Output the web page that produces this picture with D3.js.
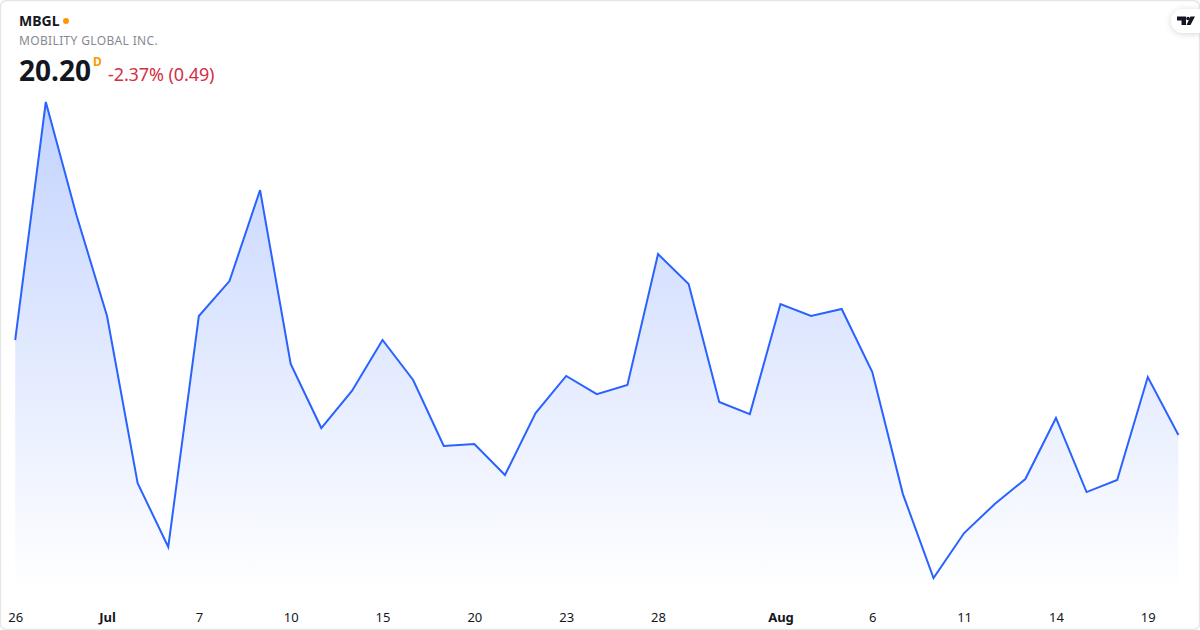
<!DOCTYPE html>
<html><head><meta charset="utf-8">
<script src="https://cdnjs.cloudflare.com/ajax/libs/d3/7.8.5/d3.min.js"></script>
<style>
html,body{margin:0;padding:0;background:#fff;overflow:hidden}
svg{display:block}
text{font-family:"Noto Sans","Open Sans",sans-serif}
</style></head><body><div id="c"></div>
<script>
const ticker="MBGL", company="MOBILITY GLOBAL INC.", lastPrice="20.20", interval="D", change="-2.37% (0.49)";
const sessions=["06-26","06-27","06-28","07-01","07-02","07-03","07-07","07-08","07-09","07-10","07-11","07-12","07-15","07-16","07-17","07-20","07-21","07-22","07-23","07-24","07-25","07-28","07-29","07-30","07-31","08-01","08-02","08-05","08-06","08-07","08-08","08-11","08-12","08-13","08-14","08-15","08-16","08-19","08-20"];
const prices=[21.003,23.014,22.059,21.206,19.794,19.254,21.206,21.501,22.270,20.800,20.259,20.572,21.003,20.665,20.107,20.124,19.862,20.386,20.699,20.546,20.623,21.729,21.476,20.479,20.377,21.307,21.206,21.265,20.732,19.701,18.992,19.372,19.617,19.828,20.344,19.718,19.820,20.690,20.200];
const tickSessions=["06-26","07-01","07-07","07-10","07-15","07-20","07-23","07-28","08-01","08-06","08-11","08-14","08-19"];
const tickLabels=["26","Jul","7","10","15","20","23","28","Aug","6","11","14","19"];
const boldTicks=["Jul","Aug"];
const W=1200,H=630;
const svg=d3.select("#c").append("svg").attr("width",W).attr("height",H);
const defs=svg.append("defs");
const grad=defs.append("linearGradient").attr("id","g").attr("gradientUnits","userSpaceOnUse").attr("x1",0).attr("x2",0).attr("y1",102).attr("y2",592);
grad.append("stop").attr("offset","0%").attr("stop-color","#2962ff").attr("stop-opacity",0.28);
grad.append("stop").attr("offset","100%").attr("stop-color","#2962ff").attr("stop-opacity",0);
const sh=defs.append("filter").attr("id","s").attr("x","-30%").attr("y","-50%").attr("width","160%").attr("height","200%");
sh.append("feDropShadow").attr("dx",0).attr("dy",1).attr("stdDeviation",3).attr("flood-color","#000").attr("flood-opacity",0.16);

const x=d3.scalePoint().domain(sessions).range([15.2,1178.4]);
const y=d3.scaleLinear().domain(d3.extent(prices)).range([578,102]);
const base=592;
const area=d3.area().x((d,i)=>x(sessions[i])).y0(base).y1(d=>y(d));
const line=d3.line().x((d,i)=>x(sessions[i])).y(d=>y(d));

svg.append("path").datum(prices).attr("d",area).attr("fill","url(#g)");
svg.append("path").datum(prices).attr("d",line).attr("fill","none").attr("stroke","#2962ff").attr("stroke-width",2).attr("stroke-linejoin","miter");

// x axis
const axis=d3.axisBottom(x).tickValues(tickSessions).tickSize(0).tickPadding(0).tickFormat(d=>tickLabels[tickSessions.indexOf(d)]);
const gx=svg.append("g").attr("transform","translate(0,612.6)").call(axis);
gx.select(".domain").remove();
gx.selectAll("text").attr("dy","0.71em").attr("y",0).attr("font-size",13).attr("fill","#131722")
  .attr("font-weight",d=>boldTicks.includes(tickLabels[tickSessions.indexOf(d)])?700:400).style("font-family",'"Noto Sans"');

// card border
svg.append("rect").attr("x",0.5).attr("y",0.5).attr("width",W-1).attr("height",H-1).attr("rx",6).attr("fill","none").attr("stroke","#e6e6e6").attr("stroke-width",1.5);

// header
svg.append("text").attr("x",19).attr("y",26).attr("font-size",14).attr("font-weight",700).attr("fill","#131722").text(ticker);
svg.append("circle").attr("cx",66).attr("cy",21).attr("r",3).attr("fill","#ff9800");
svg.append("text").attr("x",19).attr("y",45).attr("font-size",12).attr("letter-spacing",0.35).attr("fill","#868993").text(company);
svg.append("text").attr("x",19).attr("y",81).attr("font-size",28).attr("font-weight",700).attr("fill","#131722").text(lastPrice);
svg.append("text").attr("x",93).attr("y",66).attr("font-size",12).attr("font-weight",700).attr("fill","#ff9800").text(interval);
svg.append("text").attr("x",108).attr("y",81).attr("font-size",18).attr("textLength",106.5).attr("fill","#d32f45").text(change);

// logo badge
const lg=svg.append("g");
lg.append("path").attr("d","M1200 9 H1183 A12 12 0 0 0 1171 21 A12 12 0 0 0 1183 33 H1200 Z").attr("fill","#fff").attr("filter","url(#s)");
lg.append("path").attr("d","M1177 16.5 H1186 V25 H1181.5 V20.5 H1177 Z M1190.5 16.5 H1195 L1190.5 25 H1186.5 Z").attr("fill","#131722");
lg.append("circle").attr("cx",1188).attr("cy",18.5).attr("r",1.8).attr("fill","#131722");
</script></body></html>
